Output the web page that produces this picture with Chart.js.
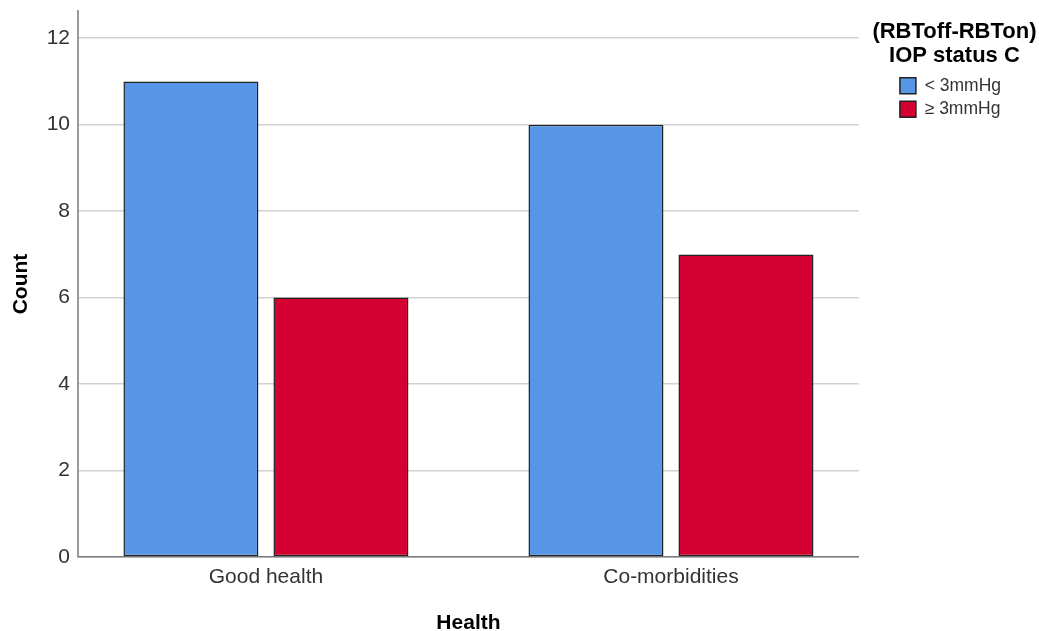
<!DOCTYPE html>
<html>
<head>
<meta charset="utf-8">
<script src="https://cdn.jsdelivr.net/npm/chart.js@4/dist/chart.umd.min.js"></script>
<style>
  html, body { margin: 0; padding: 0; background: #ffffff; }
  #wrap { width: 1039px; height: 631px; }
</style>
</head>
<body>
<div id="wrap"><canvas id="chart" width="1039" height="631"></canvas></div>
<script>
// Health groups on the x axis
const categories = ['Good health', 'Co-morbidities'];
// Counts per IOP status group
const belowThreshold = [11, 10];   // < 3mmHg
const atOrAbove = [6, 7];          // ≥ 3mmHg
const seriesLabels = ['< 3mmHg', '\u2265 3mmHg'];
// Value-axis tick labels
const yTicks = [0, 2, 4, 6, 8, 10, 12];

const FONT = "'Liberation Sans', Arial, Helvetica, sans-serif";

const toPoints = (vals) => vals.map((v, i) => ({ x: i, y: v }));

// Lets the two-line legend title overhang the legend's item column
// without being clipped, and widens the legend box a little.
const legendTweaks = {
  id: 'legendTweaks',
  afterInit(chart) {
    const lg = chart.legend;
    if (!lg) return;
    const fit = lg.fit;
    lg.fit = function () {
      fit.call(this);
      this.width += 4;
    };
    lg.draw = function () {
      if (this.options.display) this._draw();
    };
  }
};

new Chart(document.getElementById('chart'), {
  type: 'bar',
  data: {
    datasets: [
      {
        label: seriesLabels[0],
        data: toPoints(belowThreshold),
        backgroundColor: '#5795E6',
        borderColor: '#222222',
        borderWidth: 1.5,
        borderSkipped: false
      },
      {
        label: seriesLabels[1],
        data: toPoints(atOrAbove),
        backgroundColor: '#D50032',
        borderColor: '#222222',
        borderWidth: 1.5,
        borderSkipped: false
      }
    ]
  },
  plugins: [legendTweaks],
  options: {
    responsive: false,
    animation: false,
    devicePixelRatio: 1,
    categoryPercentage: 0.7407,
    barPercentage: 0.9,
    layout: { padding: { top: 11, right: 24, bottom: 0, left: 0 } },
    plugins: {
      tooltip: { enabled: false },
      legend: {
        position: 'right',
        align: 'start',
        labels: {
          font: { family: FONT, size: 17.5 },
          color: '#333333',
          boxWidth: 16,
          boxHeight: 16,
          padding: 6
        },
        title: {
          display: true,
          text: ['(RBToff-RBTon)', 'IOP status C'],
          color: '#000000',
          font: { family: FONT, size: 22, weight: 'bold', lineHeight: '24px' },
          padding: { top: 10, bottom: 26 }
        }
      }
    },
    scales: {
      x: {
        type: 'linear',
        offset: false,
        min: -0.464,
        max: 1.464,
        grid: { display: false, drawTicks: false, offset: false },
        border: { display: true, color: '#7a7a7a', width: 1.5 },
        afterBuildTicks: (scale) => { scale.ticks = categories.map((c, i) => ({ value: i })); },
        afterFit: (scale) => {
          scale.height = 74;
          scale.paddingLeft = 0;
          scale.paddingRight = 0;
        },
        ticks: {
          autoSkip: false,
          maxRotation: 0,
          padding: 8,
          color: '#333333',
          font: { family: FONT, size: 21 },
          callback: (v) => categories[v]
        },
        title: {
          display: true,
          text: 'Health',
          color: '#000000',
          font: { family: FONT, size: 21, weight: 'bold' },
          padding: { top: 0, bottom: -5 }
        }
      },
      y: {
        position: 'left',
        min: 0,
        max: 12.63,
        afterBuildTicks: (scale) => { scale.ticks = yTicks.map((v) => ({ value: v })); },
        afterFit: (scale) => {
          scale.width = 78;
          scale.paddingTop = 0;
          scale.paddingBottom = 0;
        },
        grid: { color: '#d2d2d2', lineWidth: 1.5, drawTicks: false },
        border: { display: true, color: '#9a9a9a', width: 2 },
        ticks: {
          padding: 8,
          color: '#333333',
          font: { family: FONT, size: 21 }
        },
        title: {
          display: true,
          text: 'Count',
          color: '#000000',
          font: { family: FONT, size: 21, weight: 'bold' },
          padding: { top: 8.5, bottom: 0 }
        }
      },
      // empty spacer between the plot area and the legend
      gap: {
        position: 'right',
        display: true,
        grid: { display: false, drawTicks: false },
        border: { display: false },
        ticks: { display: false },
        afterFit: (scale) => {
          scale.width = 35;
          scale.paddingTop = 0;
          scale.paddingBottom = 0;
        }
      }
    }
  }
});
</script>
</body>
</html>
